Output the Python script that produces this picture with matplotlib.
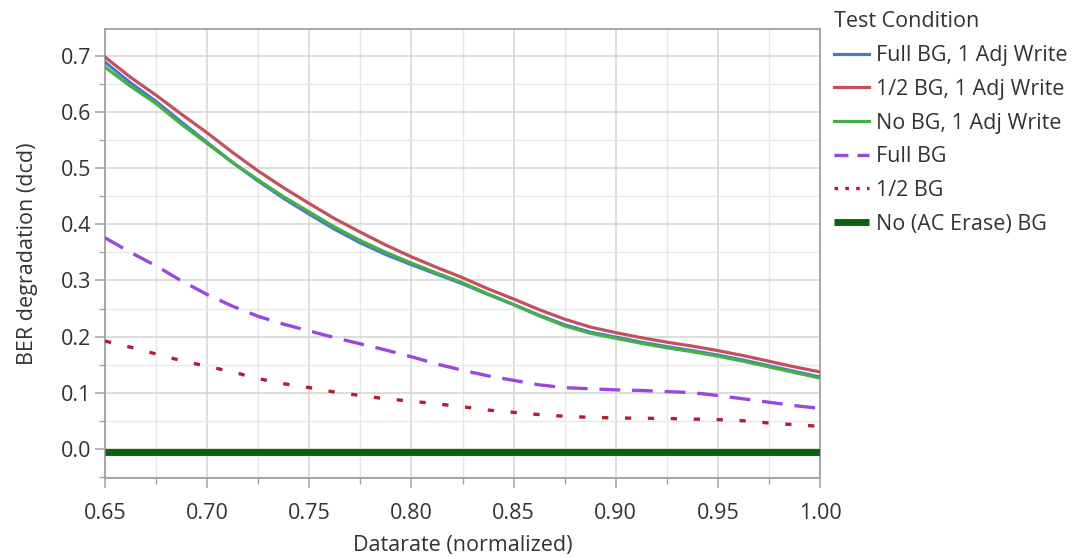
import matplotlib
matplotlib.use("Agg")
import matplotlib.pyplot as plt
from matplotlib.ticker import MultipleLocator, FormatStrFormatter

datarate = [0.65, 0.6625, 0.675, 0.6875, 0.70, 0.7125, 0.725, 0.7375, 0.75,
            0.7625, 0.775, 0.7875, 0.80, 0.8125, 0.825, 0.8375, 0.85, 0.8625,
            0.875, 0.8875, 0.90, 0.9125, 0.925, 0.9375, 0.95, 0.9625, 0.975,
            0.9875, 1.00]

full_bg_adj = [0.689, 0.652, 0.619, 0.582, 0.546, 0.510, 0.477, 0.446, 0.418,
               0.391, 0.367, 0.346, 0.328, 0.311, 0.294, 0.275, 0.257, 0.238,
               0.221, 0.208, 0.199, 0.190, 0.182, 0.175, 0.167, 0.158, 0.148,
               0.138, 0.128]
half_bg_adj = [0.698, 0.662, 0.630, 0.596, 0.563, 0.528, 0.495, 0.465, 0.437,
               0.410, 0.386, 0.363, 0.342, 0.323, 0.305, 0.285, 0.267, 0.248,
               0.231, 0.217, 0.207, 0.198, 0.190, 0.183, 0.175, 0.166, 0.156,
               0.146, 0.137]
no_bg_adj = [0.680, 0.646, 0.615, 0.578, 0.544, 0.510, 0.479, 0.449, 0.422,
             0.395, 0.371, 0.350, 0.331, 0.313, 0.296, 0.276, 0.257, 0.237,
             0.219, 0.206, 0.197, 0.188, 0.180, 0.173, 0.165, 0.156, 0.146,
             0.136, 0.126]
full_bg = [0.376, 0.350, 0.326, 0.299, 0.275, 0.254, 0.236, 0.222, 0.210,
           0.198, 0.187, 0.176, 0.164, 0.151, 0.140, 0.130, 0.122, 0.114,
           0.109, 0.107, 0.105, 0.104, 0.102, 0.100, 0.095, 0.089, 0.083,
           0.077, 0.072]
half_bg = [0.192, 0.181, 0.169, 0.157, 0.147, 0.137, 0.125, 0.116, 0.109,
           0.101, 0.095, 0.089, 0.085, 0.080, 0.075, 0.069, 0.065, 0.061,
           0.058, 0.056, 0.055, 0.0545, 0.054, 0.053, 0.052, 0.050, 0.046,
           0.043, 0.040]
no_bg = [-0.0064] * len(datarate)

labels = ["Full BG, 1 Adj Write", "1/2 BG, 1 Adj Write", "No BG, 1 Adj Write",
          "Full BG", "1/2 BG", "No (AC Erase) BG"]

plt.rcParams['font.family'] = ['Open Sans', 'DejaVu Sans']
plt.rcParams['lines.scale_dashes'] = False
txt = '#333333'
fs = 15.5

fig = plt.figure(figsize=(10.81, 5.58), dpi=100)
ax = fig.add_axes([105/1081, 1-478/558, (820-105)/1081, (478-29)/558])

ax.plot(datarate, full_bg_adj, color='#4a78d0', lw=2.3, label=labels[0], zorder=3)
ax.plot(datarate, half_bg_adj, color='#c4505e', lw=2.3, label=labels[1], zorder=3)
ax.plot(datarate, no_bg_adj, color='#46b046', lw=2.3, label=labels[2], zorder=4)
ax.plot(datarate, full_bg, color='#9a48dc', lw=2.4, dashes=(15, 8.5), label=labels[3], zorder=3)
ax.plot(datarate, half_bg, color='#b01e32', lw=2.4, dashes=(4.5, 12), label=labels[4], zorder=3)
ax.plot(datarate, no_bg, color='#0a640f', lw=5, label=labels[5], zorder=3, solid_capstyle='butt')

ax.set_xlim(0.65, 1.00)
ax.set_ylim(-0.052, 0.748)
ax.xaxis.set_major_locator(MultipleLocator(0.05))
ax.xaxis.set_minor_locator(MultipleLocator(0.025))
ax.yaxis.set_major_locator(MultipleLocator(0.1))
ax.yaxis.set_minor_locator(MultipleLocator(0.05))
ax.xaxis.set_major_formatter(FormatStrFormatter('%.2f'))
ax.yaxis.set_major_formatter(FormatStrFormatter('%.1f'))

ax.grid(which='major', color='#d4d4d4', lw=1.1)
ax.grid(which='minor', color='#e8e8e8', lw=1.0)
ax.set_axisbelow(True)
for s in ax.spines.values():
    s.set_color('#a0a0a0')
    s.set_linewidth(1.3)
ax.tick_params(which='major', length=7, width=1.1, color='#a0a0a0',
               labelsize=fs, labelcolor=txt)
ax.tick_params(axis='x', which='major', pad=11)
ax.tick_params(axis='y', which='major', pad=3)
ax.tick_params(which='minor', length=4.5, width=1.0, color='#a0a0a0')

ax.set_xlabel('Datarate (normalized)', fontsize=fs, color=txt, labelpad=8)
ax.set_ylabel('BER degradation (dcd)', fontsize=fs, color=txt, labelpad=16)

leg = ax.legend(loc='upper left', bbox_to_anchor=(828/1081, 1-5/558),
                bbox_transform=fig.transFigure, frameon=False,
                title='Test Condition', fontsize=fs, title_fontsize=fs,
                handlelength=1.6, handletextpad=0.35, labelspacing=0.59,
                alignment='left', borderpad=0.3, borderaxespad=0)
for t in leg.get_texts():
    t.set_color(txt)
leg.get_title().set_color(txt)
handles = leg.legend_handles
handles[3].set_dashes((10, 6.5))
handles[4].set_dashes((2.6, 5.2))

fig.savefig('out.png', dpi=100)
